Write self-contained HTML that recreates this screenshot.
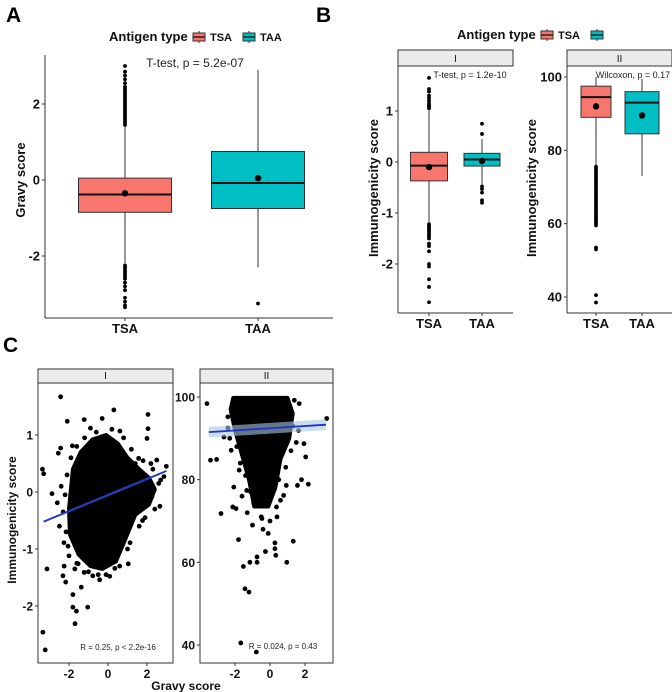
<!DOCTYPE html>
<html><head><meta charset="utf-8"><style>
body{margin:0;background:#fff}
svg{display:block;font-family:"Liberation Sans",Arial,sans-serif}
</style></head><body>
<svg id="fig" width="672" height="692" viewBox="0 0 672 692">
<g>
<text x="6" y="22" font-size="21" font-weight="bold">A</text>
<text x="316" y="22" font-size="21" font-weight="bold">B</text>
<text x="3" y="352" font-size="21" font-weight="bold">C</text>
</g>
</svg>
<script>
// ---------- DATA ----------
const groups = ["TSA","TAA"];
// Panel A: gravy score boxes [lowWhisker, q1, median, q3, highWhisker, mean]
const gravyTSA = [-2.2, -0.85, -0.38, 0.05, 1.42, -0.35];
const gravyTAA = [-2.3, -0.75, -0.08, 0.75, 2.9, 0.05];
const gravyTSAOut = [1.45,1.5,1.55,1.6,1.65,1.7,1.75,1.8,1.85,1.9,1.95,2.0,2.05,2.1,2.15,2.2,2.25,2.3,2.35,2.4,2.45,2.55,2.65,2.75,2.85,3.0,-2.25,-2.3,-2.35,-2.4,-2.45,-2.5,-2.55,-2.6,-2.7,-2.8,-2.9,-3.1,-3.2,-3.3,-3.35];
const gravyTAAOut = [-3.25];
const gravyTicks = [-2, 0, 2];
// Panel B facet I
const immI_TSA = [-1.2, -0.37, -0.07, 0.19, 1.0, -0.1];
const immI_TAA = [-0.45, -0.08, 0.05, 0.17, 0.45, 0.02];
const immI_TSAOut = [1.05,1.08,1.1,1.12,1.15,1.2,1.25,1.3,1.38,1.43,1.65,-1.22,-1.25,-1.28,-1.3,-1.33,-1.36,-1.4,-1.43,-1.46,-1.5,-1.6,-1.65,-1.75,-2.0,-2.05,-2.3,-2.45,-2.75];
const immI_TAAOut = [0.75,0.55,-0.48,-0.53,-0.6,-0.75,-0.8];
const immITicks = [-2,-1,0,1];
// Panel B facet II
const immII_TSA = [76, 89, 94.5, 97.5, 100, 92];
const immII_TAA = [73, 84.5, 93, 96, 99.5, 89.5];
const immII_TSAOut = [75.5,75,74.5,74,73.5,73,72.5,72,71.5,71,70.5,70,69.5,69,68.5,68,67.5,67,66.5,66,65.5,65,64.5,64,63.5,63,62.5,62,61.5,61,60.5,60,59.5,53.5,53,40.5,38.5];
const immIITicks = [40,60,80,100];
// Panel C facet I scatter (gravy, immunogenicity)
const scIcore = [[-2.0,-0.3],[-1.8,0.4],[-1.4,0.7],[-0.8,0.92],[-0.1,1.0],[0.5,0.85],[1.0,0.6],[1.6,0.4],[2.1,0.25],[2.4,0.05],[2.1,-0.22],[1.4,-0.4],[0.8,-0.9],[0.4,-1.22],[-0.3,-1.35],[-0.9,-1.3],[-1.5,-1.1],[-1.95,-0.75]];
const scIx = [-2.43,-2.09,-1.22,-0.3,0.3,2.05,2.05,2.0,-3.36,-3.3,-2.43,-2.55,-2.87,-3.13,-3.34,-3.22,-1.8,-1.8,-1.62,-1.69,-1.04,-1.37,-2.31,-2.17,-2.0,1.04,1.13,1.77,2.66,2.99,2.87,2.5,1.57,0.61,-1.83,-0.43,0.09,0.35,-0.78,-1.22,-1.53,-2.26,-2.49,-2.6,2.7,2.26,
 -2.1,-2.2,-2.3,-2.15,-1.9,-1.6,-1.2,-0.6,0.2,0.8,1.2,1.8,2.3,2.6,2.4,1.9,1.6,1.0,0.6,-0.1,-0.5,-1.0,-1.6,-2.05,-2.25,-2.4,-1.7,-0.9,1.4,2.2];
const scIy = [1.67,1.24,1.27,1.29,1.44,1.36,1.11,0.94,0.4,0.32,0.77,0.68,-0.03,-1.35,-2.46,-2.77,-1.8,-2.02,-2.09,-2.31,-2.02,-1.67,-1.47,-1.58,-1.12,-1.26,-0.89,-0.5,-0.25,0.45,0.27,0.56,0.59,1.07,0.81,-1.54,-1.48,-1.34,-1.47,-1.41,-1.26,-0.89,-0.6,-0.19,0.21,-0.08,
 0.3,-0.05,-0.35,-0.7,0.6,0.8,0.95,1.05,1.1,0.95,0.75,0.55,0.4,0.15,-0.3,-0.45,-0.6,-1.0,-1.3,-1.45,-1.45,-1.4,-1.25,-0.95,-1.3,0.1,-1.35,1.12,0.5,0.5];
const fitI = [[-3.3,-0.52],[3.0,0.37]];
// Panel C facet II
const scIIcore = [[-2.1,99.8],[1.0,99.8],[1.3,96],[1.1,90],[0.6,85],[0.3,78],[-0.1,73.5],[-0.9,73.5],[-1.2,80],[-1.6,86],[-2.0,92],[-2.25,97]];
const scIIx = [-3.6,-3.4,-3.05,-2.8,-2.07,-2.13,-1.94,-1.8,-1.52,-1.43,-1.2,-1.15,-1.67,-0.78,-0.74,-0.74,-0.26,0.28,0.28,0.33,0.96,1.33,2.19,3.24,1.57,1.8,2.04,1.94,1.63,0.93,0.78,0.37,-0.46,-0.93,-1.33,-1.76,-2.22,-2.63,-2.41,1.39,1.67,0.93,
 -2.4,-2.3,-1.9,-1.7,-1.4,-1.1,-0.5,0.0,0.4,0.6,1.3,1.5,1.2,0.9,0.5,-1.6,-1.3,-0.4,-0.1,-1.0];
const scIIy = [98.4,84.7,84.9,71.8,78.2,73.4,73,65.5,59,53.6,52.8,60,40.5,38.3,61.3,60,62.6,64.7,63.3,61.7,60,65.1,78.9,94.8,78.6,80,85.5,88.7,91.9,78.6,76.2,73.4,70.6,74.2,77.4,82.3,87.1,90.3,95.2,99.2,98.4,99.2,
 92.5,90,88,84,81,77,71,70,71,75,93,89,87,83,80,76,72,68,67,69];
const fitII = [[-3.5,91.5],[3.2,93.3]];
const gravyCTicks = [-2,0,2];

// ---------- DRAW ----------
const NS="http://www.w3.org/2000/svg";
const svg=document.getElementById('fig');
function mk(tag,attrs,parent){const e=document.createElementNS(NS,tag);for(const k in attrs)e.setAttribute(k,attrs[k]);(parent||svg).appendChild(e);return e;}
function txt(s,attrs,parent){const e=mk('text',attrs,parent);e.textContent=s;return e;}
function lin(d0,d1,r0,r1){return v=>r0+(v-d0)*(r1-r0)/(d1-d0);}
const RED="#F8766D", CYAN="#00BFC4";

function boxPlot(g,xc,hw,d,y,fill,name){
  const b=mk('g',{},g);
  
  
  mk('line',{x1:xc,x2:xc,y1:y(d[4]),y2:y(d[3]),stroke:'#333','stroke-width':1},b);
  mk('line',{x1:xc,x2:xc,y1:y(d[1]),y2:y(d[0]),stroke:'#333','stroke-width':1},b);
  mk('rect',{x:xc-hw,y:y(d[3]),width:2*hw,height:y(d[1])-y(d[3]),fill:fill,stroke:'#333','stroke-width':1},b);
  mk('line',{x1:xc-hw,x2:xc+hw,y1:y(d[2]),y2:y(d[2]),stroke:'#111','stroke-width':2},b);
  mk('circle',{cx:xc,cy:y(d[5]),r:3.2,fill:'#000'},b);
}
function outliers(g,xc,vals,y,name){
  for(const v of vals){const c=mk('circle',{cx:xc,cy:y(v),r:1.9,fill:'#000'},g);
    
    }
}
function yAxis(g,x,ticks,y,top,bottom,fs){
  mk('line',{x1:x,x2:x,y1:top,y2:bottom,stroke:'#333','stroke-width':1},g);
  for(const t of ticks){mk('line',{x1:x-3,x2:x,y1:y(t),y2:y(t),stroke:'#333'},g);
    const l=txt(String(t),{x:x-5,y:y(t)+4.5,'font-size':fs,'font-weight':'bold','text-anchor':'end',fill:'#111'},g);
    
    }
}
function xAxisCat(g,y0,left,right,xs,labels,fs){
  mk('line',{x1:left,x2:right,y1:y0,y2:y0,stroke:'#333'},g);
  labels.forEach((s,i)=>{mk('line',{x1:xs[i],x2:xs[i],y1:y0,y2:y0+3,stroke:'#333'},g);
    const l=txt(s,{x:xs[i],y:y0+15,'font-size':fs,'font-weight':'bold','text-anchor':'middle',fill:'#111'},g);
    
    });
}
function legend(g,x,y,showTAA){
  txt('Antigen type',{x:x,y:y,'font-size':13,'font-weight':'bold',fill:'#111'},g);
  const keys=showTAA?[[RED,'TSA'],[CYAN,'TAA']]:[[RED,'TSA'],[CYAN,'']];
  let cx=x+84;
  keys.forEach(([c,s])=>{
    const k=mk('g',{},g);
    
    
    mk('line',{x1:cx+6,x2:cx+6,y1:y-10,y2:y+2,stroke:'#333'},k);
    mk('rect',{x:cx,y:y-8,width:12,height:8,fill:c,stroke:'#333'},k);
    mk('line',{x1:cx,x2:cx+12,y1:y-4,y2:y-4,stroke:'#111','stroke-width':1.3},k);
    if(s) txt(s,{x:cx+17,y:y,'font-size':11,'font-weight':'bold',fill:'#111'},k);
    cx+=50;});
}
function strip(g,x0,x1,y0,y1,label){
  const r=mk('rect',{x:x0,y:y0,width:x1-x0,height:y1-y0,fill:'#ebebeb',stroke:'#333','stroke-width':1},g);
  
  
  txt(label,{x:(x0+x1)/2,y:y1-4,'font-size':10,'text-anchor':'middle',fill:'#111'},g);
}
function vtitle(g,x,y,s,fs,name){const t=txt(s,{x:x,y:y,'font-size':fs,'font-weight':'bold','text-anchor':'middle',transform:`rotate(-90 ${x} ${y})`,fill:'#111'},g);
  
  }

// ===== Panel A =====
{
const g=mk('g',{});


const y=lin(0,2,180,104);
const xs=[125,258];
legend(g,109,41,true);
txt('T-test, p = 5.2e-07',{x:195,y:67,'font-size':12,'text-anchor':'middle',fill:'#222'},g);
boxPlot(g,xs[0],46.5,gravyTSA,y,RED,'box-tsa');
boxPlot(g,xs[1],46.5,gravyTAA,y,CYAN,'box-taa');
outliers(g,xs[0],gravyTSAOut,y,'outlier-tsa');
outliers(g,xs[1],gravyTAAOut,y,'outlier-taa');
yAxis(g,45,gravyTicks,y,55,318,13);
xAxisCat(g,318,45,333,xs,groups,13);
vtitle(g,25,180,'Gravy score',13,'y-axis-title-a');
}
// ===== Panel B =====
{
const g=mk('g',{});


legend(g,457,39,false);
const y=lin(0,1,162,111);
const xs=[429,482];
strip(g,398,513,50,66,'I');
txt('T-test, p = 1.2e-10',{x:470,y:78,'font-size':9,'text-anchor':'middle',fill:'#222'},g);
boxPlot(g,xs[0],18.5,immI_TSA,y,RED,'box-tsa-i');
boxPlot(g,xs[1],18,immI_TAA,y,CYAN,'box-taa-i');
outliers(g,xs[0],immI_TSAOut,y,'outlier-tsa-i');
outliers(g,xs[1],immI_TAAOut,y,'outlier-taa-i');
yAxis(g,398,immITicks,y,66,313,13);
xAxisCat(g,313,398,513,xs,groups,13);
vtitle(g,378,188,'Immunogenicity score',13,'y-axis-title-b1');
const y2=lin(40,100,297,77);
const xs2=[596,642];
strip(g,567,672,50,66,'II');
txt('Wilcoxon, p = 0.17',{x:633,y:78,'font-size':9,'text-anchor':'middle',fill:'#222'},g);
boxPlot(g,xs2[0],15,immII_TSA,y2,RED,'box-tsa-ii');
boxPlot(g,xs2[1],17,immII_TAA,y2,CYAN,'box-taa-ii');
outliers(g,xs2[0],immII_TSAOut,y2,'outlier-tsa-ii');
yAxis(g,567,immIITicks,y2,66,313,13);
xAxisCat(g,313,567,672,xs2,groups,13);
vtitle(g,536,188,'Immunogenicity score',13,'y-axis-title-b2');
}
// ===== Panel C =====
function scatterFacet(g,x,y,core,xsArr,ysArr,fit,name,ribbon){
  const p=mk('path',{d:'M'+core.map(q=>x(q[0])+','+y(q[1])).join('L')+'Z',fill:'#000',stroke:'#000','stroke-width':4,'stroke-linejoin':'round'},g);
  
  
  for(let i=0;i<xsArr.length;i++){const c=mk('circle',{cx:x(xsArr[i]),cy:y(ysArr[i]),r:2.4,fill:'#000'},g);
    
    }
  if(ribbon){const [a,b]=fit;const rb=mk('path',{d:`M${x(a[0])},${y(a[1]+ribbon)}L${x(b[0])},${y(b[1]+ribbon)}L${x(b[0])},${y(b[1]-ribbon)}L${x(a[0])},${y(a[1]-ribbon)}Z`,fill:'#a8c8e0','fill-opacity':0.6},g);
    
    }
  const l=mk('line',{x1:x(fit[0][0]),y1:y(fit[0][1]),x2:x(fit[1][0]),y2:y(fit[1][1]),stroke:'#2233cc','stroke-width':1.8},g);
  
  
}
function xAxisNum(g,y0,left,right,ticks,x){
  mk('line',{x1:left,x2:right,y1:y0,y2:y0,stroke:'#333'},g);
  for(const t of ticks){mk('line',{x1:x(t),x2:x(t),y1:y0,y2:y0+3,stroke:'#333'},g);
    const l=txt(String(t),{x:x(t),y:y0+15,'font-size':12,'font-weight':'bold','text-anchor':'middle',fill:'#111'},g);
    
    }
}
{
const g=mk('g',{});


const x=lin(0,2,108,147), y=lin(0,1,492,435);
strip(g,38,173,369,383,'I');
scatterFacet(g,x,y,scIcore,scIx,scIy,fitI,'scatter-i',0.02);
mk('rect',{x:38,y:383,width:135,height:280,fill:'none',stroke:'#333'},g);
yAxis(g,38,[-2,-1,0,1],y,383,663,12);
xAxisNum(g,663,38,173,gravyCTicks,x);
txt('R = 0.25, p < 2.2e-16',{x:118,y:650,'font-size':8,'text-anchor':'middle',fill:'#222'},g);
const x2=lin(0,2,270,305), y2=lin(40,100,645,397);
strip(g,200,333,369,383,'II');
scatterFacet(g,x2,y2,scIIcore,scIIx,scIIy,fitII,'scatter-ii',1.3);
mk('rect',{x:200,y:383,width:133,height:280,fill:'none',stroke:'#333'},g);
yAxis(g,200,[40,60,80,100],y2,383,663,12);
xAxisNum(g,663,200,333,gravyCTicks,x2);
txt('R = 0.024, p = 0.43',{x:283,y:649,'font-size':8,'text-anchor':'middle',fill:'#222'},g);
vtitle(g,16,520,'Immunogenicity score',12,'y-axis-title-c');
const xt=txt('Gravy score',{x:186,y:690,'font-size':12,'font-weight':'bold','text-anchor':'middle',fill:'#111'},g);


}
</script>
</body></html>
